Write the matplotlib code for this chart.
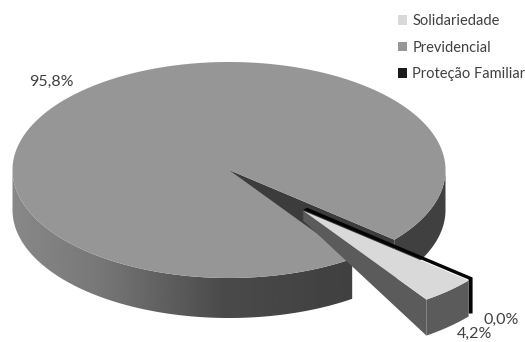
import numpy as np
import matplotlib
matplotlib.use("Agg")
import matplotlib.pyplot as plt
from matplotlib.patches import Polygon, Patch

categories = ["Solidariedade", "Previdencial", "Proteção Familiar"]
values = [4.2, 95.8, 0.0]
value_labels = ["4,2%", "95,8%", "0,0%"]

plt.rcParams["font.family"] = ["Lato", "DejaVu Sans"]
TXT = "#404040"
TOP = {"Solidariedade": "#d9d9d9", "Previdencial": "#969696", "Proteção Familiar": "#1a1a1a"}

fig = plt.figure(figsize=(5.25, 3.42), dpi=100)
ax = fig.add_axes([0, 0, 1, 1])

CX, CY, RX, RY = 229.0, 170.0, 216.5, 108.0
DEPTH, DEPTH_X = 40.0, 36.0
START = 40.2
EXPLODE = 0.51


def pts(a0, a1, cx=CX, cy=CY, n=200):
    t = np.radians(np.linspace(a0, a1, n))
    return np.column_stack([cx + RX * np.cos(t), cy + RY * np.sin(t)])


def offset(arr, d):
    return arr + np.array([0, d])


def side(arc, d):
    return np.vstack([arc, offset(arc, d)[::-1]])


a_sol0 = START
a_sol1 = a_sol0 + values[0] / 100 * 360
a_prev1 = a_sol1 + values[1] / 100 * 360

# main pie: curved side with gradient
left_arc = pts(a_sol1, 180)
poly = Polygon(side(left_arc, DEPTH), closed=True, fc="none", ec="none")
ax.add_patch(poly)
grad = np.interp(np.linspace(0, 1, 256), [0, 0.25, 0.62, 1], [0x88, 0x78, 0x4a, 0x40])
im = ax.imshow(grad[None, :], cmap="gray", vmin=0, vmax=255, extent=[12, 353, 320, 170],
               aspect="auto", zorder=1)
im.set_clip_path(poly)

right_arc = pts(0, START)
ax.add_patch(Polygon(side(right_arc, DEPTH), closed=True, fc="#404040", ec="none", zorder=1))

# inner wall of the gap
c = np.array([[CX, CY]])
edge = pts(START, START, n=1)
wall = np.vstack([c, edge, offset(edge, DEPTH), offset(c, DEPTH)])
ax.add_patch(Polygon(wall, closed=True, fc="#3c3c3c", ec="none", zorder=1.5))

# main top face
ax.add_patch(Polygon(np.vstack([c, pts(a_sol1, a_prev1, n=500)]), closed=True,
                     fc=TOP["Previdencial"], ec="none", zorder=2))

# exploded slice
mid = np.radians((a_sol0 + a_sol1) / 2)
ex, ey = CX + EXPLODE * RX * np.cos(mid), CY + EXPLODE * RY * np.sin(mid)

# zero-width slice: only its thickness shows, in black
shift = np.array([4.0, -3.0])
z0 = np.array([[ex, ey]]) + shift
z1 = pts(START, START, ex, ey, n=1) + shift
ax.add_patch(Polygon(np.vstack([z0, z1, offset(z1, DEPTH_X), z1 + [-4, DEPTH_X], z1 + [-4, 2], z0 + [-4, 2]]),
                     closed=True, fc="#050505", ec="none", zorder=3))

e0 = np.array([[ex, ey]])
e_arc = pts(a_sol0, a_sol1, ex, ey, n=40)
e_low = e_arc[-1:]
ax.add_patch(Polygon(side(e_arc, DEPTH_X), closed=True, fc="#5b5b5b", ec="none", zorder=4))
ax.add_patch(Polygon(np.vstack([e0, e_low, offset(e_low, DEPTH_X), offset(e0, 10)]), closed=True,
                     fc="#5b5b5b", ec="none", zorder=4))
ax.add_patch(Polygon(np.vstack([e0, e_arc]), closed=True, fc=TOP["Solidariedade"], ec="none", zorder=5))

# value labels
label_xy = [(457, 333.5), (29, 82), (484, 320)]
for (x, y), s in zip(label_xy, value_labels):
    ax.text(x, y, s, fontsize=11.5, color=TXT, va="center", ha="left", zorder=6)

ax.set_xlim(0, 525)
ax.set_ylim(342, 0)
ax.axis("off")

handles = [Patch(fc=TOP[k], ec="none") for k in categories]
leg = ax.legend(handles, categories, loc="upper left", bbox_to_anchor=(398 / 525, 1 - 14 / 342),
                frameon=False, fontsize=10.5, labelcolor=TXT, handlelength=0.62, handleheight=0.62,
                handletextpad=0.35, labelspacing=0.86, borderpad=0, borderaxespad=0)

fig.savefig("out.png", dpi=100, facecolor="white")
